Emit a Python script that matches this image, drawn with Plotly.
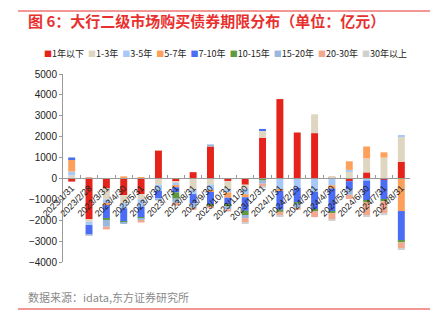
import plotly.graph_objects as go

dates = ["2023/1/31", "2023/2/28", "2023/3/31", "2023/4/30", "2023/5/31", "2023/6/30",
         "2023/7/31", "2023/8/31", "2023/9/30", "2023/10/31", "2023/11/30", "2023/12/31",
         "2024/1/31", "2024/2/29", "2024/3/31", "2024/4/30", "2024/5/31", "2024/6/30",
         "2024/7/31", "2024/8/31"]

names = ["1年以下", "1-3年", "3-5年", "5-7年", "7-10年", "10-15年", "15-20年", "20-30年", "30年以上"]
colors = ["#E5231B", "#DFD6C1", "#A8C8F8", "#FCA05C", "#4B6CF5", "#5D9A41", "#9AB8DE", "#F2A88E", "#D0D0D0"]

s_lt1 = [-150, -1950, -480, -800, -750, 1320, -150, 300, 1530, -120, -300, 1950, 3800, 2200, 2170, 60, -130, 290, -60, 800]
s_1_3 = [150, -130, -520, -380, -250, -300, -60, -550, -300, -400, -200, 320, 0, 0, 900, 40, 330, 670, 1000, 1200]
s_3_5 = [180, -150, -180, -250, -350, -300, -150, -200, -300, -150, -250, 0, -520, -450, -650, -330, 80, -100, 0, 80]
s_5_7 = [570, 0, -100, 100, 60, 0, -60, 0, -50, -250, -150, 0, -80, 0, 0, -150, 410, 570, 250, -1560]
s_7_10 = [80, -450, -650, -650, -500, -350, -250, -450, -600, -350, -650, 100, -900, -700, -850, -1100, -400, -950, -950, -1420]
s_10_15 = [0, 0, -60, -50, -60, 0, -300, 0, -60, -60, -200, -100, -100, -50, -60, -80, 0, -80, -80, -80]
s_15_20 = [40, -30, -320, -50, -80, -100, -250, -200, 100, -150, -150, -150, 0, -200, 0, 0, -250, 0, 0, 0]
s_20_30 = [0, 50, -130, 0, -120, 30, -80, -100, -120, -100, -200, -150, -180, -100, -290, -300, -200, -620, -570, -300]
s_30p = [0, -40, 0, 0, 0, 0, 0, 0, 0, 0, -50, -30, -50, 0, 0, -50, 0, -80, -100, -20]

series = [s_lt1, s_1_3, s_3_5, s_5_7, s_7_10, s_10_15, s_15_20, s_20_30, s_30p]

W, H = 439, 322
L, R, T, B = 63, 29, 74, 60
PW, PH = W - L - R, H - T - B


def px(x):
    return (x - L) / PW


def py(y):
    return (H - B - y) / PH


fig = go.Figure()
for n, c, v in zip(names, colors, series):
    fig.add_trace(go.Bar(x=dates, y=v, name=n, marker_color=c, marker_line_width=0,
                         showlegend=False))

FONT = "Liberation Sans, Arial, Noto Sans CJK SC, sans-serif"
CJK = "Noto Sans CJK SC, Liberation Sans, sans-serif"

legend_html = "&nbsp;&nbsp;".join(
    f'<span style="color:{c};font-size:8px">■</span>{n}' for n, c in zip(names, colors))

fig.update_layout(
    width=W, height=H,
    margin=dict(l=L, r=R, t=T, b=B),
    paper_bgcolor="white", plot_bgcolor="white",
    barmode="relative", bargap=0.6,
    font=dict(family=FONT, size=9, color="#222"),
    xaxis=dict(type="category", anchor="free", position=4 / 9,
               showline=True, linecolor="#9a9a9a", linewidth=1,
               ticks="inside", ticklen=3, tickcolor="#9a9a9a", tickson="boundaries",
               tickangle=-45, tickfont=dict(size=9, color="#222", family=FONT),
               showgrid=False, zeroline=False, automargin=False),
    yaxis=dict(range=[-4000, 5000], dtick=1000, showline=True, linecolor="#9a9a9a",
               linewidth=1, ticks="outside", ticklen=3, tickcolor="#9a9a9a",
               tickfont=dict(size=10, color="#222", family=FONT),
               showgrid=False, zeroline=False, automargin=False),
    shapes=[
        dict(type="line", xref="paper", yref="paper", x0=px(18), x1=px(430), y0=py(11), y1=py(11),
             line=dict(color="#E8312F", width=1)),
        dict(type="line", xref="paper", yref="paper", x0=px(18), x1=px(430), y0=py(309), y1=py(309),
             line=dict(color="#E8312F", width=1)),
    ],
    annotations=[
        dict(text="<b>图 6：大行二级市场购买债券期限分布（单位：亿元）</b>", xref="paper", yref="paper",
             x=px(26), y=py(20), xanchor="left", yanchor="middle", showarrow=False,
             font=dict(family=CJK, size=15, color="#E8312F")),
        dict(text=legend_html, xref="paper", yref="paper", x=px(225), y=py(53),
             xanchor="center", yanchor="middle", showarrow=False,
             font=dict(family=CJK, size=9, color="#222")),
        dict(text="数据来源：idata,东方证券研究所", xref="paper", yref="paper",
             x=px(26), y=py(297), xanchor="left", yanchor="middle", showarrow=False,
             font=dict(family=CJK, size=11, color="#8a8a8a")),
    ],
)

fig.write_html("out.html")
